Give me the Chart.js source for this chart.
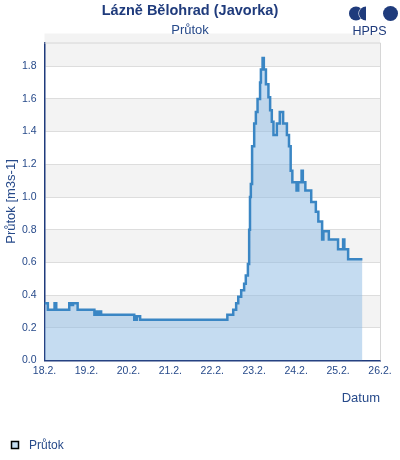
<!DOCTYPE html>
<html lang="cs">

<head>
  <meta charset="UTF-8">
  <title>Lázně Bělohrad (Javorka)</title>
  <style>
    html, body { margin: 0; padding: 0; background: #fff; }
    #wrap { width: 400px; height: 460px; }
  </style>
</head>

<body>
  <div id="wrap"><canvas id="flowchart" width="400" height="460"></canvas></div>

  <script src="https://cdn.jsdelivr.net/npm/chart.js"></script>
  <script>
    // days since 18.2. 00:00 and flow values (m3/s)
    const times = [0.00, 0.08, 0.24, 0.28, 0.59, 0.65, 0.68, 0.79, 1.19, 1.24, 1.26, 1.32, 1.35,
      2.14, 2.20, 2.28, 4.36, 4.50, 4.57, 4.62, 4.69, 4.76, 4.80, 4.85, 4.88, 4.90, 4.92, 4.95,
      5.00, 5.04, 5.08, 5.14, 5.16, 5.20, 5.23, 5.28, 5.34, 5.38, 5.42, 5.46, 5.54, 5.61, 5.69,
      5.78, 5.83, 5.87, 5.91, 6.01, 6.05, 6.13, 6.16, 6.22, 6.36, 6.47, 6.53, 6.62, 6.65, 6.78,
      7.00, 7.12, 7.15, 7.24, 7.58];
    const flows = [0.35, 0.31, 0.35, 0.31, 0.35, 0.34, 0.35, 0.31, 0.28, 0.30, 0.28, 0.30, 0.28,
      0.25, 0.27, 0.25, 0.28, 0.31, 0.35, 0.39, 0.43, 0.47, 0.52, 0.59, 0.80, 1.00, 1.08, 1.31,
      1.45, 1.52, 1.60, 1.70, 1.78, 1.85, 1.78, 1.69, 1.61, 1.53, 1.46, 1.38, 1.45, 1.52, 1.45,
      1.38, 1.31, 1.16, 1.09, 1.04, 1.09, 1.16, 1.09, 1.04, 0.97, 0.91, 0.85, 0.74, 0.79, 0.74,
      0.68, 0.74, 0.68, 0.62, 0.62];
    const dayLabels = ['18.2.', '19.2.', '20.2.', '21.2.', '22.2.', '23.2.', '24.2.', '25.2.', '26.2.'];

    const navy = '#1f3b7c';
    const textBlue = '#274a8a';

    // grey bands, plot frame, logo and legend
    const decor = {
      id: 'decor',
      beforeDraw(chart) {
        const { ctx, chartArea: a, scales: { y } } = chart;
        ctx.save();
        ctx.fillStyle = '#f3f3f3';
        for (let v = 0.2; v < 1.8; v += 0.4) {
          const top = y.getPixelForValue(v + 0.2), bot = y.getPixelForValue(v);
          ctx.fillRect(a.left, top, a.right - a.left, bot - top);
        }
        ctx.restore();
      },
      afterDraw(chart) {
        const { ctx, chartArea: a } = chart;
        ctx.save();
        ctx.strokeStyle = '#d6d6d6';
        ctx.lineWidth = 1;
        ctx.beginPath();
        ctx.moveTo(a.left, a.top + 0.5);
        ctx.lineTo(a.right + 0.5, a.top + 0.5);
        ctx.lineTo(a.right + 0.5, a.bottom);
        ctx.stroke();

        // HPPS logo
        ctx.fillStyle = navy;
        ctx.beginPath(); ctx.arc(356, 13.5, 7, 0, Math.PI * 2); ctx.fill();
        ctx.beginPath(); ctx.arc(366, 13.5, 7, Math.PI / 2, Math.PI * 1.5); ctx.closePath();
        ctx.strokeStyle = '#fff';
        ctx.lineWidth = 1.2;
        ctx.stroke();
        ctx.fill();
        ctx.beginPath(); ctx.arc(390.5, 13.5, 7.5, 0, Math.PI * 2); ctx.fill();
        ctx.font = '12.5px "Liberation Sans", Arial, sans-serif';
        ctx.textAlign = 'center';
        ctx.textBaseline = 'middle';
        ctx.fillText('HPPS', 369.5, 31.5);

        // legend
        ctx.fillStyle = '#c5dcf0';
        ctx.fillRect(11.5, 441.5, 7, 7);
        ctx.strokeStyle = '#000';
        ctx.lineWidth = 1.5;
        ctx.strokeRect(11.5, 441.5, 7, 7);
        ctx.fillStyle = textBlue;
        ctx.font = '12px "Liberation Sans", Arial, sans-serif';
        ctx.textAlign = 'left';
        ctx.fillText('Průtok', 29, 445.5);
        ctx.restore();
      }
    };

    new Chart(document.getElementById('flowchart'), {
      type: 'line',
      data: {
        datasets: [{
          label: 'Průtok',
          data: times.map((t, i) => ({ x: t, y: flows[i] })),
          stepped: true,
          fill: 'origin',
          borderColor: '#3a86c4',
          backgroundColor: 'rgba(140, 186, 228, 0.5)',
          borderWidth: 2.5,
          pointRadius: 0
        }]
      },
      options: {
        responsive: false,
        animation: false,
        layout: { padding: { top: 0, right: 20, bottom: 50, left: 0 } },
        plugins: {
          legend: { display: false },
          tooltip: { enabled: false },
          title: {
            display: true,
            text: 'Lázně Bělohrad (Javorka)',
            color: navy,
            font: { family: '"Liberation Sans", Arial, sans-serif', size: 14.5, weight: 'bold' },
            padding: { top: 2.7, bottom: 0 }
          },
          subtitle: {
            display: true,
            text: 'Průtok',
            color: textBlue,
            font: { family: '"Liberation Sans", Arial, sans-serif', size: 13 },
            padding: { top: 2.8, bottom: 4 }
          }
        },
        scales: {
          x: {
            type: 'linear',
            min: 0,
            max: 8,
            afterFit: s => { s.height = 49.5; },
            grid: { display: false, drawTicks: false },
            border: { display: true, color: navy, width: 1.5 },
            ticks: {
              stepSize: 1,
              padding: 4.5,
              color: textBlue,
              font: { family: '"Liberation Sans", Arial, sans-serif', size: 10.5 },
              maxRotation: 0,
              callback: v => dayLabels[v]
            },
            title: {
              display: true,
              text: 'Datum',
              align: 'end',
              color: textBlue,
              font: { family: '"Liberation Sans", Arial, sans-serif', size: 13 },
              padding: { top: 0, bottom: 3.7 }
            }
          },
          y: {
            min: 0,
            max: 1.945,
            afterFit: s => { s.width = 44.5; },
            grid: { color: '#dddddd', drawTicks: false },
            border: { display: true, color: navy, width: 1.5 },
            ticks: {
              stepSize: 0.2,
              includeBounds: false,
              padding: 8,
              color: textBlue,
              font: { family: '"Liberation Sans", Arial, sans-serif', size: 10.5 },
              callback: v => v.toFixed(1)
            },
            title: {
              display: true,
              text: 'Průtok [m3s-1]',
              color: textBlue,
              font: { family: '"Liberation Sans", Arial, sans-serif', size: 13 },
              padding: { top: 3.2, bottom: 0 }
            }
          }
        }
      },
      plugins: [decor]
    });
  </script>
</body>

</html>
